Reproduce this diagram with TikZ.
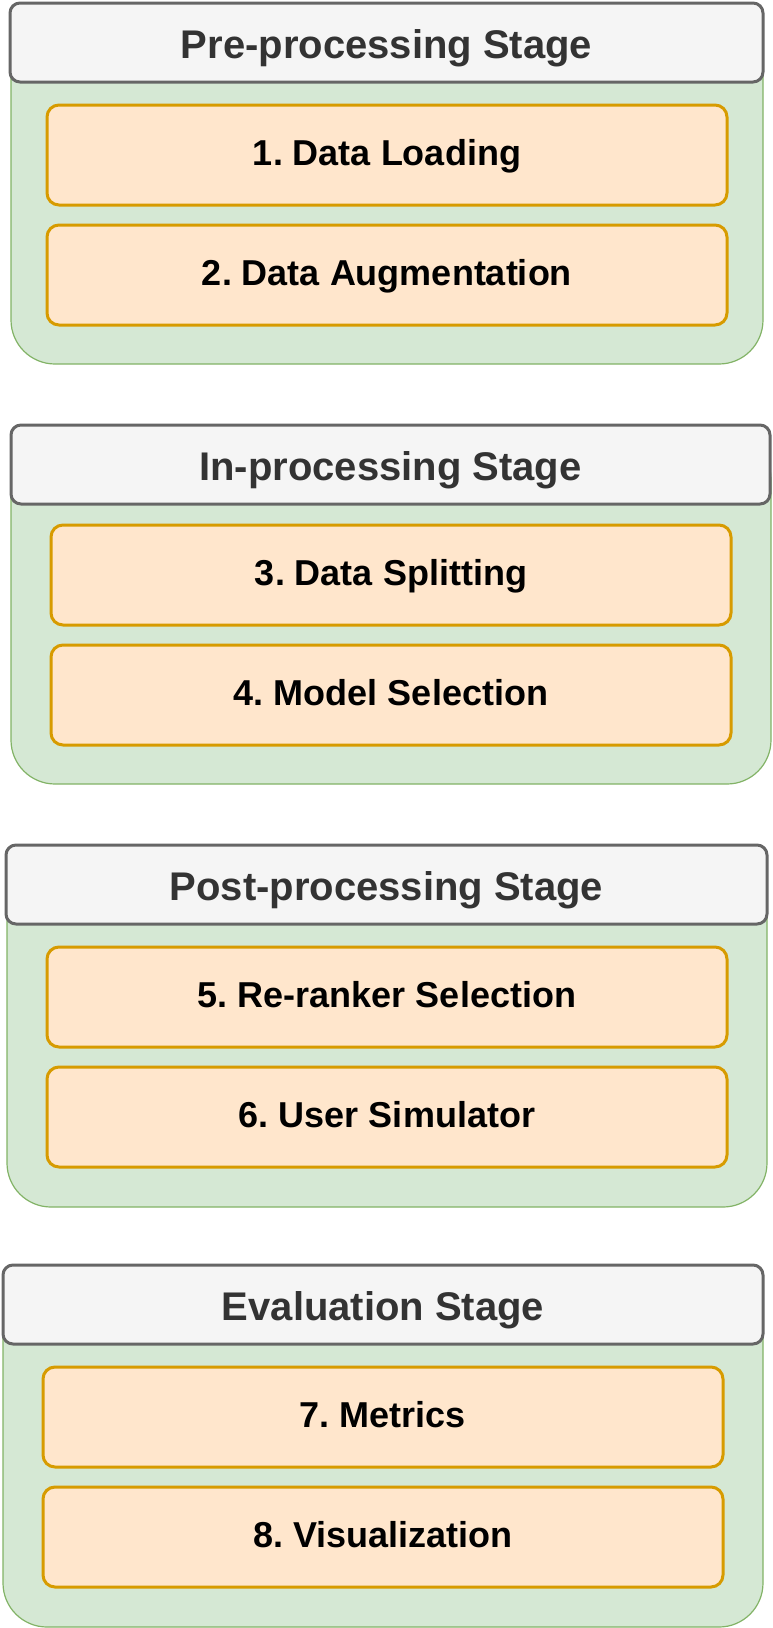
\documentclass[tikz,border=0pt]{standalone}
\usepackage{fontspec}
\setmainfont{Liberation Sans}
\usetikzlibrary{positioning}
\frenchspacing

\definecolor{stagefill}{HTML}{D5E8D4}
\definecolor{stageline}{HTML}{82B366}
\definecolor{headfill}{HTML}{F5F5F5}
\definecolor{headline}{HTML}{666666}
\definecolor{headtext}{HTML}{333333}
\definecolor{stepfill}{HTML}{FFE6CC}
\definecolor{stepline}{HTML}{D79B00}

\tikzset{
  stagebody/.style={fill=stagefill, draw=stageline, line width=0.6pt, rounded corners=22pt},
  stagehead/.style={rectangle, rounded corners=5pt, fill=headfill, draw=headline,
    line width=1.5pt, minimum height=39.5pt, inner sep=0pt, text=headtext,
    text height=19.5pt, text depth=4pt,
    font=\bfseries\fontsize{20}{24}\selectfont},
  stepbox/.style={rectangle, rounded corners=6pt, fill=stepfill, draw=stepline,
    line width=1.5pt, minimum width=340pt, minimum height=50pt, inner sep=0pt,
    text height=14pt, text depth=4pt,
    font=\bfseries\fontsize{18}{22}\selectfont}
}

\begin{document}
\begin{tikzpicture}[x=0.5pt,y=-0.5pt]
  \useasboundingbox (0,0) rectangle (772,1628);

  % pre-processing
  \draw[stagebody] (11,13) -- (11,364) -- (763,364) -- (763,13) -- cycle;
  \node[stagehead, minimum width=376.5pt] (pre) at (386.5,42.5) {Pre-processing Stage};
  \node[stepbox] (load) at (387,155) {1. Data Loading};
  \node[stepbox] (augment) at (387,275) {2. Data Augmentation};

  % in-processing
  \draw[stagebody] (11,435) -- (11,784) -- (771,784) -- (771,435) -- cycle;
  \node[stagehead, minimum width=379.5pt] (inproc) at (390.5,464.5) {In-processing Stage};
  \node[stepbox] (split) at (391,575) {3. Data Splitting};
  \node[stepbox] (model) at (391,695) {4. Model Selection};

  % post-processing
  \draw[stagebody] (7,855) -- (7,1207) -- (767,1207) -- (767,855) -- cycle;
  \node[stagehead, minimum width=380.5pt] (post) at (386.5,884.5) {Post-processing Stage};
  \node[stepbox] (rerank) at (387,997) {5. Re-ranker Selection};
  \node[stepbox] (simul) at (387,1117) {6. User Simulator};

  % evaluation
  \draw[stagebody] (3,1275) -- (3,1627) -- (763,1627) -- (763,1275) -- cycle;
  \node[stagehead, minimum width=380pt] (eval) at (383,1304.5) {Evaluation Stage};
  \node[stepbox] (metrics) at (383,1417) {7. Metrics};
  \node[stepbox] (visual) at (383,1537) {8. Visualization};
\end{tikzpicture}
\end{document}
